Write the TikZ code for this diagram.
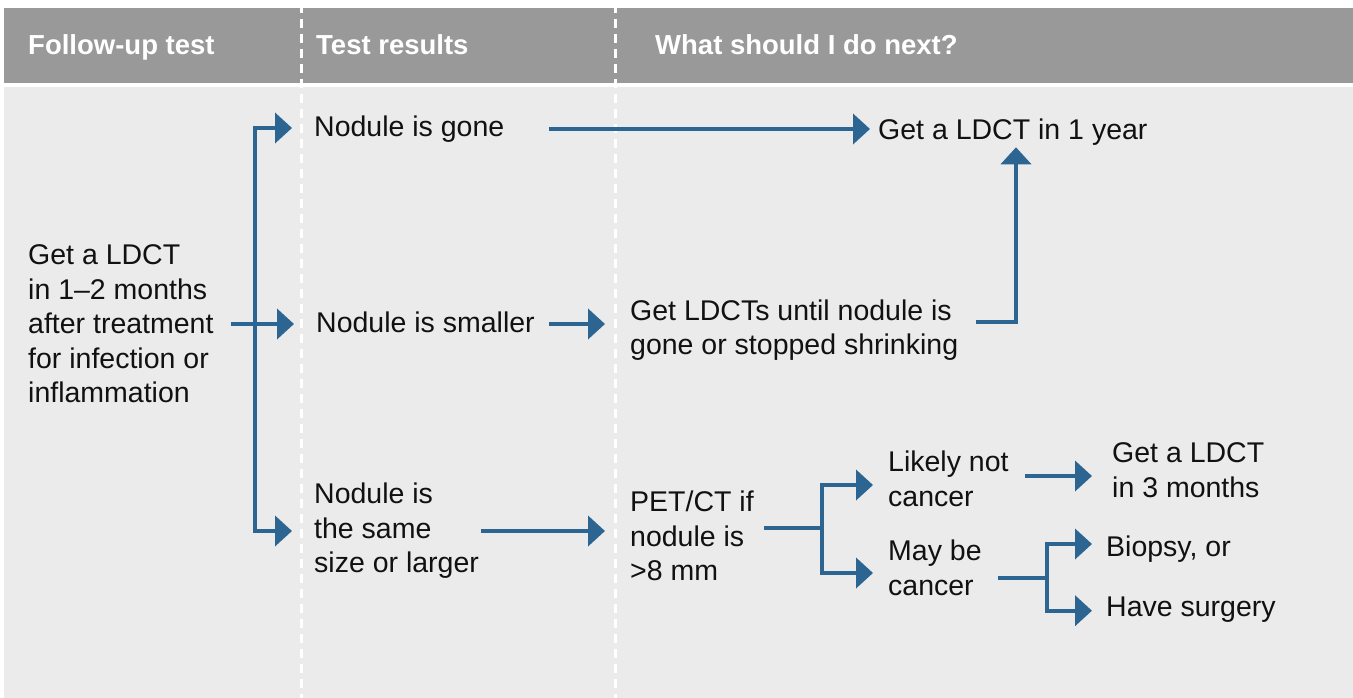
\documentclass[tikz,border=0pt]{standalone}
\usepackage{fontspec}
\setmainfont{Liberation Sans}
\usetikzlibrary{arrows.meta,calc}
\definecolor{hdr}{HTML}{999999}
\definecolor{bg}{HTML}{EBEBEB}
\definecolor{arrc}{HTML}{2C6591}
\definecolor{txt}{HTML}{111111}
\begin{document}
\begin{tikzpicture}[x=1pt,y=-1pt,
  lbl/.style={anchor=west,inner sep=0pt,align=left,font=\fontsize{28.5}{34.5}\selectfont,text=txt},
  one/.style={lbl,anchor=base west},
  hd/.style={anchor=base west,inner sep=0pt,font=\fontsize{27.5}{30}\selectfont\bfseries,text=white},
  link/.style={draw=arrc,line width=4pt},
  arr/.style={link,-{Triangle[length=17pt,width=30pt]}},
  sep/.style={draw=white,line width=3pt,dash pattern=on 9pt off 6pt}]
\useasboundingbox (0,0) rectangle (1353,698);
\fill[white] (0,0) rectangle (1353,698);
\fill[hdr] (4,8) rectangle (1353,83);
\fill[bg] (4,87) rectangle (1353,698);
\draw[sep] (301,4) -- (301,698);
\draw[sep] (615,4) -- (615,698);

\node[hd] (h1) at (28,55) {Follow-up test};
\node[hd] (h2) at (316,55) {Test results};
\node[hd] (h3) at (655,55) {What should I do next?};

\node[lbl] (init) at (28,324) {Get a LDCT\\in 1–2 months\\after treatment\\for infection or\\inflammation};
\node[one] (gone) at (314,137) {Nodule is gone};
\node[one] (small) at (316,332) {Nodule is smaller};
\node[lbl] (same) at (314,531) {Nodule is\\the same\\size or larger};
\node[one] (year) at (878,139.3) {Get a LDCT in 1 year};
\node[lbl] (until) at (630,330) {Get LDCTs until nodule is\\gone or stopped shrinking};
\node[lbl] (pet) at (630,536) {PET/CT if\\nodule is\\>8 mm};
\node[lbl] (likely) at (888,479) {Likely not\\cancer};
\node[lbl] (three) at (1112,470) {Get a LDCT\\in 3 months};
\node[lbl] (maybe) at (888,568) {May be\\cancer};
\node[one] (biopsy) at (1106,556) {Biopsy, or};
\node[one] (surgery) at (1106,616.7) {Have surgery};

\coordinate (j1) at (255,324);
\coordinate (j2) at (822,528);
\coordinate (j3) at (1047,578);
\coordinate (uy) at (1016,0);

\draw[arr] ($(init.east)+(17,0)$) -- ($(small.base west)+(-22,-8)$);
\draw[arr] (j1) |- ($(gone.base west)+(-22,-9)$);
\draw[arr] (j1) |- ($(same.west)+(-22,0)$);
\draw[arr] ($(gone.base east)+(44,-8)$) -- ($(gone.base east -| year.west)+(-8,-8)$);
\draw[arr] ($(small.base east)+(14,-8)$) -- ($(small.base east -| until.west)+(-25,-8)$);
\draw[arr] ($(until.east |- small.base)+(18,-10)$) -| ($(year.base -| uy)+(0,8)$);
\draw[arr] ($(same.east)+(2,0)$) -- ($(same.east -| pet.west)+(-25,0)$);
\draw[link] ($(pet.east |- j2)+(10,0)$) -- (j2);
\draw[arr] (j2) |- ($(likely.west)+(-15,6)$);
\draw[arr] (j2) |- ($(maybe.west)+(-15,5)$);
\draw[arr] ($(likely.east)+(16,-3)$) -- ($(likely.east -| three.west)+(-20,-3)$);
\draw[link] ($(maybe.east |- j3)+(16,0)$) -- (j3);
\draw[arr] (j3) |- ($(biopsy.base west)+(-14,-12)$);
\draw[arr] (j3) |- ($(surgery.base west)+(-14,-6)$);
\end{tikzpicture}
\end{document}
